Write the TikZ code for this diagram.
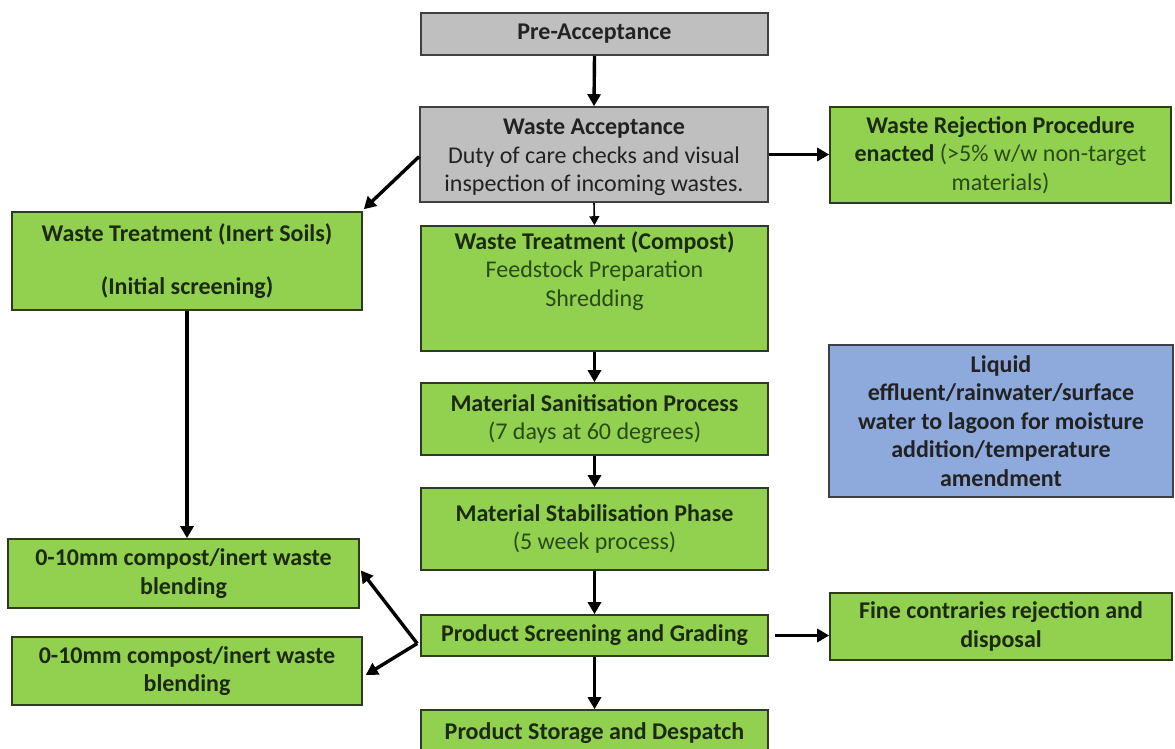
\documentclass[tikz,border=0pt]{standalone}
\usepackage{fontspec}
\setmainfont{Carlito}
\usetikzlibrary{arrows.meta}
\definecolor{gfill}{HTML}{92D050}
\definecolor{grfill}{HTML}{BFBFBF}
\definecolor{bfill}{HTML}{8EA9DB}
\definecolor{gline}{HTML}{2E3A22}
\definecolor{gtxt}{HTML}{1C2A12}
\definecolor{gtxtr}{HTML}{2A4A18}
\definecolor{ktxt}{HTML}{222222}
\tikzset{
  box/.style={draw=gline, line width=1.6pt, align=center, inner sep=0pt,
    font=\fontsize{24}{28.5}\selectfont},
  greybox/.style={box, draw=black!75, fill=grfill, text=ktxt},
  greenbox/.style={box, fill=gfill, text=gtxt},
  bluebox/.style={box, draw=black!75, fill=bfill, text=ktxt},
  txt/.style={align=center, inner sep=0pt, font=\fontsize{24}{28.5}\selectfont, text=gtxt},
  arr/.style={draw=black, line width=3.4pt, -{Triangle[length=12pt,width=13pt]}},
  thinarr/.style={draw=black, line width=1.6pt, -{Triangle[length=9pt,width=10pt]}},
}
\newcommand{\rg}[1]{{\mdseries\color{gtxtr}#1}}
\begin{document}
\begin{tikzpicture}[x=1pt,y=-1pt]
\useasboundingbox (0,0) rectangle (1175,749);
\begin{scope}
\clip (0,0) rectangle (1175,749);
% boxes
\node[greybox, minimum width=347, minimum height=42] (pre) at (594.5,34) {\bfseries Pre-Acceptance};
\node[greybox, minimum width=348, minimum height=95] (wa) at (594,154.5) {};
\node[txt, text=ktxt] (waT) at ([yshift=-3]wa.center)
  {\bfseries Waste Acceptance\\ {\mdseries Duty of care checks and visual}\\ {\mdseries inspection of incoming wastes.}};
\node[greenbox, minimum width=341, minimum height=96] (rej) at (1000.5,155)
  {\bfseries Waste Rejection Procedure\\ \bfseries enacted\ \rg{(>5\% w/w non-target}\\ \rg{materials)}};
\node[greenbox, minimum width=350, minimum height=98] (inert) at (187,261)
  {\bfseries Waste Treatment (Inert Soils)\\[24pt] \bfseries (Initial screening)};
\node[greenbox, minimum width=347, minimum height=125] (compost) at (594.5,288.5) {};
\node[txt, anchor=north] (compostT) at ([yshift=-6]compost.north)
  {\bfseries Waste Treatment (Compost)\\ \rg{Feedstock Preparation}\\ \rg{Shredding}};
\node[greenbox, minimum width=347, minimum height=72] (san) at (594.5,419)
  {\bfseries Material Sanitisation Process\\ \rg{(7 days at 60 degrees)}};
\node[greenbox, minimum width=347, minimum height=82] (stab) at (594.5,529)
  {\bfseries Material Stabilisation Phase\\ \rg{(5 week process)}};
\node[greenbox, minimum width=347, minimum height=41] (screen) at (594.5,635.5)
  {\bfseries Product Screening and Grading};
\node[greenbox, minimum width=347, minimum height=46] (store) at (594.5,733)
  {\bfseries Product Storage and Despatch};
\node[bluebox, minimum width=344, minimum height=152] (blue) at (1001,421)
  {\bfseries Liquid\\ \bfseries effluent/rainwater/surface\\ \bfseries water to lagoon for moisture\\ \bfseries addition/temperature\\ \bfseries amendment};
\node[greenbox, minimum width=342, minimum height=67] (fine) at (1001,626.5)
  {\bfseries Fine contraries rejection and\\ \bfseries disposal};
\node[greenbox, minimum width=351, minimum height=69] (bl1) at (183.5,573.5)
  {\bfseries 0-10mm compost/inert waste\\ \bfseries blending};
\node[greenbox, minimum width=350, minimum height=68] (bl2) at (187,671)
  {\bfseries 0-10mm compost/inert waste\\ \bfseries blending};
% connectors
\draw[arr] (pre.south) -- (wa.north);
\draw[arr] (wa.east) -- (wa.east -| rej.west);
\draw[arr] ([yshift=-2]wa.west) -- ([xshift=1,yshift=2]inert.north east);
\draw[thinarr] (wa.south) -- (compost.north);
\draw[arr] (inert.south) -- (inert.south |- bl1.north);
\draw[arr] (compost.south) -- (san.north);
\draw[arr] (san.south) -- (stab.north);
\draw[arr] (stab.south) -- (screen.north);
\draw[arr] (screen.south) -- (store.north);
\draw[arr] ([xshift=6]screen.east) -- (screen.east -| fine.west);
\coordinate (split) at ([xshift=-3,yshift=-8]screen.west);
\draw[arr] (split) -- ([xshift=1,yshift=3]bl1.east);
\draw[arr] (split) -- ([xshift=3,yshift=-4]bl2.east);
\end{scope}
\end{tikzpicture}
\end{document}
